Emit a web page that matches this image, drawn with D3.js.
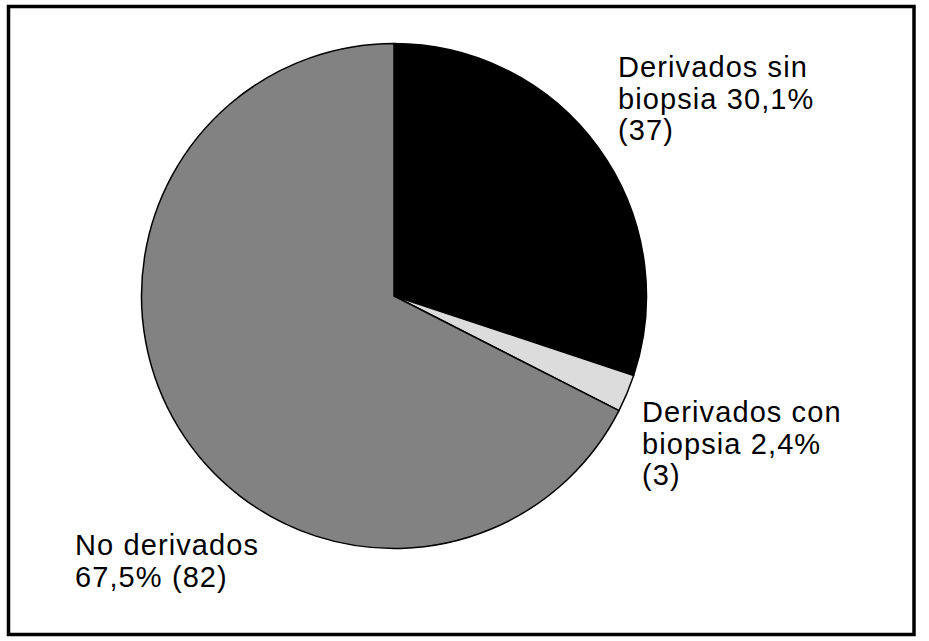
<!DOCTYPE html>
<html>
<head>
<meta charset="utf-8">
<script src="https://cdn.jsdelivr.net/npm/d3@7"></script>
<style>
  html, body { margin: 0; padding: 0; background: #fff; }
  svg { display: block; }
</style>
</head>
<body>
<div id="chart"></div>
<script>
// slices, clockwise from 12 o'clock
const categories = ["Derivados sin biopsia", "Derivados con biopsia", "No derivados"];
const percents = [30.1, 2.4, 67.5];
const counts = [37, 3, 82];
const colors = ["#000000", "#dcdcdc", "#828282"];

// label lines as printed in the figure
const labelLines = [
  ["Derivados sin", "biopsia 30,1%", "(37)"],
  ["Derivados con", "biopsia 2,4%", "(3)"],
  ["No derivados", "67,5% (82)"],
];

const width = 929;
const height = 641;
const cx = 394, cy = 296, radius = 252.5;

const svg = d3.select("#chart")
  .append("svg")
  .attr("width", width)
  .attr("height", height);

// frame
svg.append("rect")
  .attr("x", 8.5)
  .attr("y", 6.5)
  .attr("width", 905.5)
  .attr("height", 628)
  .attr("fill", "none")
  .attr("stroke", "#000")
  .attr("stroke-width", 3.5);

const data = categories.map((c, i) => ({ name: c, value: percents[i], count: counts[i], color: colors[i] }));

const pie = d3.pie().sort(null).value((d) => d.value);
const arc = d3.arc().innerRadius(0).outerRadius(radius);

const g = svg.append("g").attr("transform", `translate(${cx}, ${cy})`);

g.selectAll("path")
  .data(pie(data))
  .enter()
  .append("path")
  .attr("d", arc)
  .attr("fill", (d) => d.data.color)
  .attr("stroke", "#000")
  .attr("stroke-width", 1.5)
  .attr("stroke-linejoin", "round");

// label anchors (left x, first baseline)
const labelPos = [[618, 77], [642, 422], [75, 555]];
const lineStep = 31.5;

labelLines.forEach((lines, i) => {
  const t = svg.append("text")
    .attr("font-family", "'Liberation Sans', Arial, Helvetica, sans-serif")
    .attr("font-size", "29px")
    .attr("letter-spacing", "1.1px")
    .attr("fill", "#000");
  lines.forEach((s, j) => {
    t.append("tspan")
      .attr("x", labelPos[i][0])
      .attr("y", labelPos[i][1] + j * lineStep)
      .text(s);
  });
});
</script>
</body>
</html>
